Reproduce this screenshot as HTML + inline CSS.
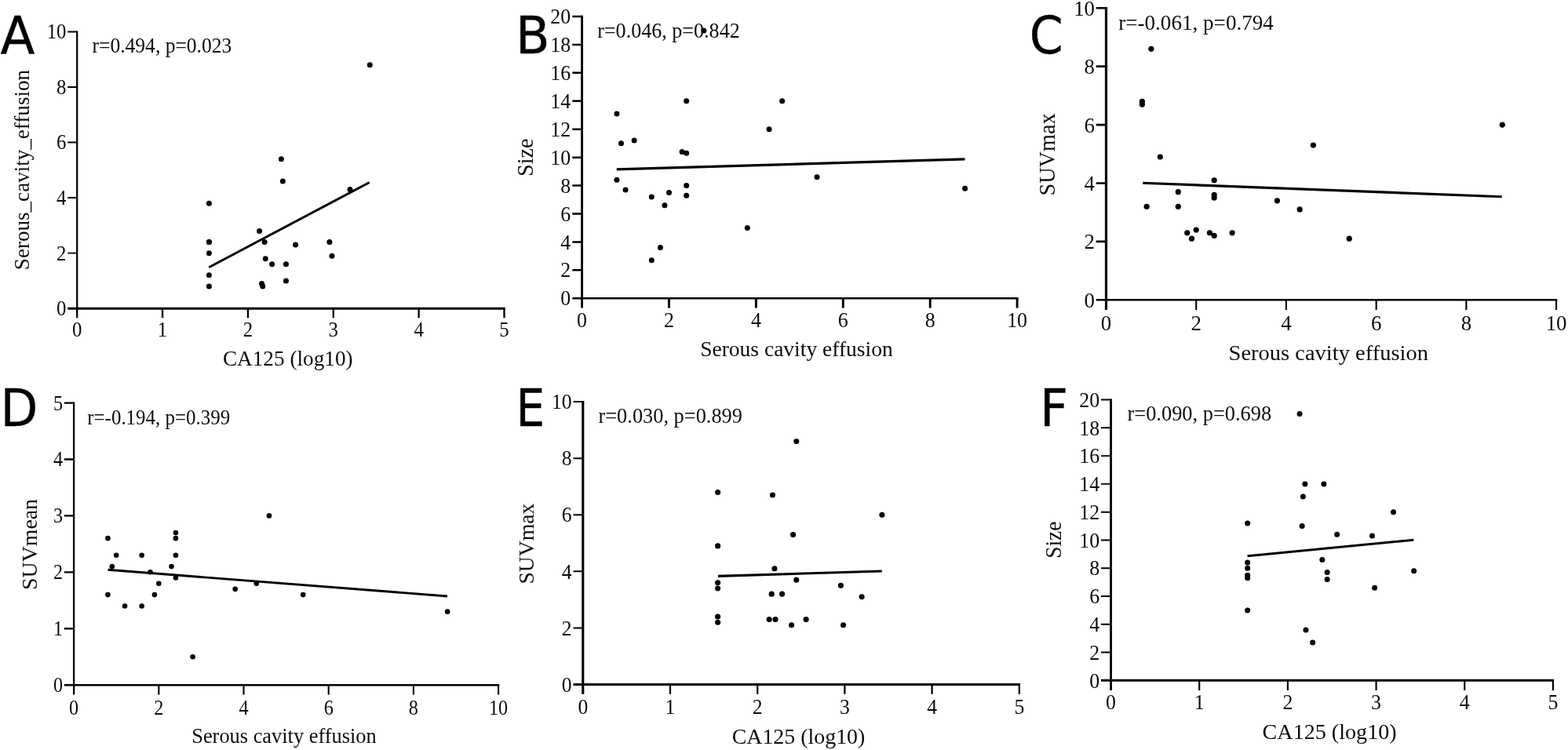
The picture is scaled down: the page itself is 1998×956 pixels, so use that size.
<!DOCTYPE html>
<html lang="en">
<head>
<meta charset="utf-8">
<title>Correlation scatter plots</title>
<style>
html,body{margin:0;padding:0;background:#fff;}
body{width:1998px;height:956px;overflow:hidden;}
svg{display:block;}
.s{font-family:"Liberation Serif", "DejaVu Serif", serif;fill:#0c0c0c;}
.L{font-family:"DejaVu Sans", "Liberation Sans", sans-serif;fill:#000;stroke:#000;stroke-width:0.35px;}
.ax{stroke:#000;fill:none;stroke-linecap:butt;}
.pt{fill:#000;}
</style>
</head>
<body>
<svg width="1998" height="956" viewBox="0 0 1998 956">
<rect width="1998" height="956" fill="#ffffff"/>
<g id="panelA">
<g class="ax">
<path stroke-width="2.25" d="M98.2 39.42V405.2"/>
<path stroke-width="3" d="M86.2 393.2H643.65"/>
<path stroke-width="2.3" d="M207.06 393.2v12M315.92 393.2v12M424.78 393.2v12M533.64 393.2v12M642.5 393.2v12"/>
<path stroke-width="1.95" d="M98.2 322.64h-12M98.2 252.08h-12M98.2 181.52h-12M98.2 110.96h-12M98.2 40.4h-12"/>
</g>
<g class="s" font-size="27">
<text transform="translate(98.2 429.3) scale(0.92 1)" text-anchor="middle">0</text><text transform="translate(207.06 429.3) scale(0.92 1)" text-anchor="middle">1</text><text transform="translate(315.92 429.3) scale(0.92 1)" text-anchor="middle">2</text><text transform="translate(424.78 429.3) scale(0.92 1)" text-anchor="middle">3</text><text transform="translate(533.64 429.3) scale(0.92 1)" text-anchor="middle">4</text><text transform="translate(642.5 429.3) scale(0.92 1)" text-anchor="middle">5</text>
<text transform="translate(84.5 402.1) scale(0.92 1)" text-anchor="end">0</text><text transform="translate(84.5 331.54) scale(0.92 1)" text-anchor="end">2</text><text transform="translate(84.5 260.98) scale(0.92 1)" text-anchor="end">4</text><text transform="translate(84.5 190.42) scale(0.92 1)" text-anchor="end">6</text><text transform="translate(84.5 119.86) scale(0.92 1)" text-anchor="end">8</text><text transform="translate(84.5 49.3) scale(0.92 1)" text-anchor="end">10</text>
</g>
<text class="s" transform="translate(117.49 67) scale(0.9649 1)" font-size="26.5">r=0.494, p=0.023</text>
<text class="s" transform="translate(283.91 465.6) scale(0.9909 1)" font-size="27.5">CA125 (log10)</text>
<text class="s" transform="translate(36.9 344.13) rotate(-90) scale(0.9741 1)" font-size="27.8">Serous_cavity_effusion</text>
<text class="L" transform="translate(0.62 67.75) scale(0.9789 1)" font-size="65.5">A</text>
<line class="ax" x1="266.25" y1="340.75" x2="470.75" y2="232.5" stroke-width="3"/>
<g class="pt">
<circle cx="266.39" cy="259.14" r="3.5"/><circle cx="266.39" cy="308.53" r="3.5"/><circle cx="266.39" cy="308.53" r="3.5"/><circle cx="266.39" cy="322.64" r="3.5"/><circle cx="266.39" cy="350.86" r="3.5"/><circle cx="266.39" cy="364.98" r="3.5"/><circle cx="330.62" cy="294.42" r="3.5"/><circle cx="337.15" cy="308.53" r="3.5"/><circle cx="338.24" cy="329.7" r="3.5"/><circle cx="346.62" cy="336.75" r="3.5"/><circle cx="358.38" cy="202.69" r="3.5"/><circle cx="360.33" cy="230.91" r="3.5"/><circle cx="364.47" cy="336.75" r="3.5"/><circle cx="364.47" cy="357.92" r="3.5"/><circle cx="376.56" cy="312.06" r="3.5"/><circle cx="419.88" cy="308.53" r="3.5"/><circle cx="422.93" cy="326.17" r="3.5"/><circle cx="446.01" cy="241.5" r="3.5"/><circle cx="471.26" cy="82.74" r="3.5"/><circle cx="333.56" cy="361.45" r="3.5"/><circle cx="334.75" cy="364.98" r="3.5"/>
</g>
</g>
<g id="panelB">
<g class="ax">
<path stroke-width="2.85" d="M741.6 19.75V392.56"/>
<path stroke-width="2.45" d="M729.3 380.26H1297.55"/>
<path stroke-width="2.9" d="M852.5 380.26v12.3M963.4 380.26v12.3M1074.3 380.26v12.3M1185.2 380.26v12.3M1296.1 380.26v12.3"/>
<path stroke-width="2.5" d="M741.6 344.33h-12.3M741.6 308.41h-12.3M741.6 272.48h-12.3M741.6 236.56h-12.3M741.6 200.63h-12.3M741.6 164.7h-12.3M741.6 128.78h-12.3M741.6 92.85h-12.3M741.6 56.93h-12.3M741.6 21h-12.3"/>
</g>
<g class="s" font-size="27.3">
<text transform="translate(741.6 417.4) scale(0.95 1)" text-anchor="middle">0</text><text transform="translate(852.5 417.4) scale(0.95 1)" text-anchor="middle">2</text><text transform="translate(963.4 417.4) scale(0.95 1)" text-anchor="middle">4</text><text transform="translate(1074.3 417.4) scale(0.95 1)" text-anchor="middle">6</text><text transform="translate(1185.2 417.4) scale(0.95 1)" text-anchor="middle">8</text><text transform="translate(1296.1 417.4) scale(0.95 1)" text-anchor="middle">10</text>
<text transform="translate(727.2 389.41) scale(0.95 1)" text-anchor="end">0</text><text transform="translate(727.2 353.48) scale(0.95 1)" text-anchor="end">2</text><text transform="translate(727.2 317.56) scale(0.95 1)" text-anchor="end">4</text><text transform="translate(727.2 281.63) scale(0.95 1)" text-anchor="end">6</text><text transform="translate(727.2 245.71) scale(0.95 1)" text-anchor="end">8</text><text transform="translate(727.2 209.78) scale(0.95 1)" text-anchor="end">10</text><text transform="translate(727.2 173.85) scale(0.95 1)" text-anchor="end">12</text><text transform="translate(727.2 137.93) scale(0.95 1)" text-anchor="end">14</text><text transform="translate(727.2 102) scale(0.95 1)" text-anchor="end">16</text><text transform="translate(727.2 66.08) scale(0.95 1)" text-anchor="end">18</text><text transform="translate(727.2 30.15) scale(0.95 1)" text-anchor="end">20</text>
</g>
<text class="s" transform="translate(761.23 48) scale(0.9841 1)" font-size="26.5">r=0.046, p=0.842</text>
<text class="s" transform="translate(892.14 454) scale(1.0199 1)" font-size="27">Serous cavity effusion</text>
<text class="s" transform="translate(678.5 224.9) rotate(-90) scale(0.9877 1)" font-size="28.5">Size</text>
<text class="L" transform="translate(657 67.75) scale(0.9706 1)" font-size="65.5">B</text>
<line class="ax" x1="785.75" y1="215.9" x2="1229.5" y2="202.9" stroke-width="3.1"/>
<g class="pt">
<circle cx="785.96" cy="144.94" r="3.5"/><circle cx="785.96" cy="229.37" r="3.5"/><circle cx="791.5" cy="182.67" r="3.5"/><circle cx="797.05" cy="241.94" r="3.5"/><circle cx="808.14" cy="179.07" r="3.5"/><circle cx="830.32" cy="250.93" r="3.5"/><circle cx="830.32" cy="331.76" r="3.5"/><circle cx="841.41" cy="315.59" r="3.5"/><circle cx="846.96" cy="261.7" r="3.5"/><circle cx="852.5" cy="245.54" r="3.5"/><circle cx="869.13" cy="193.44" r="3.5"/><circle cx="874.68" cy="128.78" r="3.5"/><circle cx="874.68" cy="195.24" r="3.5"/><circle cx="874.68" cy="236.56" r="3.5"/><circle cx="874.68" cy="249.13" r="3.5"/><circle cx="896.86" cy="38.96" r="3.5"/><circle cx="952.31" cy="290.44" r="3.5"/><circle cx="980.04" cy="164.7" r="3.5"/><circle cx="996.67" cy="128.78" r="3.5"/><circle cx="1041.03" cy="225.78" r="3.5"/><circle cx="1229.56" cy="240.15" r="3.5"/>
</g>
</g>
<g id="panelC">
<g class="ax">
<path stroke-width="3.2" d="M1409.5 8.93V395.1"/>
<path stroke-width="2.45" d="M1396.7 382.3H1984.15"/>
<path stroke-width="2.1" d="M1524.22 382.3v12.8M1638.94 382.3v12.8M1753.66 382.3v12.8M1868.38 382.3v12.8M1983.1 382.3v12.8"/>
<path stroke-width="2.65" d="M1409.5 307.89h-12.8M1409.5 233.48h-12.8M1409.5 159.07h-12.8M1409.5 84.66h-12.8M1409.5 10.25h-12.8"/>
</g>
<g class="s" font-size="28">
<text transform="translate(1409.5 420.8) scale(0.96 1)" text-anchor="middle">0</text><text transform="translate(1524.22 420.8) scale(0.96 1)" text-anchor="middle">2</text><text transform="translate(1638.94 420.8) scale(0.96 1)" text-anchor="middle">4</text><text transform="translate(1753.66 420.8) scale(0.96 1)" text-anchor="middle">6</text><text transform="translate(1868.38 420.8) scale(0.96 1)" text-anchor="middle">8</text><text transform="translate(1983.1 420.8) scale(0.96 1)" text-anchor="middle">10</text>
<text transform="translate(1395.05 391.8) scale(0.96 1)" text-anchor="end">0</text><text transform="translate(1395.05 317.39) scale(0.96 1)" text-anchor="end">2</text><text transform="translate(1395.05 242.98) scale(0.96 1)" text-anchor="end">4</text><text transform="translate(1395.05 168.57) scale(0.96 1)" text-anchor="end">6</text><text transform="translate(1395.05 94.16) scale(0.96 1)" text-anchor="end">8</text><text transform="translate(1395.05 19.75) scale(0.96 1)" text-anchor="end">10</text>
</g>
<text class="s" transform="translate(1425.21 38) scale(0.9858 1)" font-size="27.5">r=-0.061, p=0.794</text>
<text class="s" transform="translate(1565.57 458.7) scale(1.0186 1)" font-size="28">Serous cavity effusion</text>
<text class="s" transform="translate(1343.6 249.51) rotate(-90) scale(0.9741 1)" font-size="29">SUVmax</text>
<text class="L" transform="translate(1311.72 67.9) scale(0.9393 1)" font-size="65.5">C</text>
<line class="ax" x1="1456.25" y1="233.25" x2="1913.75" y2="250.75" stroke-width="3.2"/>
<g class="pt">
<circle cx="1455.39" cy="129.31" r="3.6"/><circle cx="1455.39" cy="133.03" r="3.6"/><circle cx="1461.12" cy="263.24" r="3.6"/><circle cx="1466.86" cy="62.34" r="3.6"/><circle cx="1478.33" cy="200" r="3.6"/><circle cx="1501.28" cy="244.64" r="3.6"/><circle cx="1501.28" cy="263.24" r="3.6"/><circle cx="1512.75" cy="296.73" r="3.6"/><circle cx="1518.48" cy="304.17" r="3.6"/><circle cx="1524.22" cy="293.01" r="3.6"/><circle cx="1541.43" cy="296.73" r="3.6"/><circle cx="1547.16" cy="229.76" r="3.6"/><circle cx="1547.16" cy="248.36" r="3.6"/><circle cx="1547.16" cy="252.08" r="3.6"/><circle cx="1547.16" cy="300.45" r="3.6"/><circle cx="1570.11" cy="296.73" r="3.6"/><circle cx="1627.47" cy="255.8" r="3.6"/><circle cx="1656.15" cy="266.96" r="3.6"/><circle cx="1673.36" cy="185.11" r="3.6"/><circle cx="1719.24" cy="304.17" r="3.6"/><circle cx="1914.27" cy="159.07" r="3.6"/>
</g>
</g>
<g id="panelD">
<g class="ax">
<path stroke-width="2.3" d="M94.1 512.38V885.45"/>
<path stroke-width="2.45" d="M81.8 873.15H636.15"/>
<path stroke-width="2.1" d="M202.3 873.15v12.3M310.5 873.15v12.3M418.7 873.15v12.3M526.9 873.15v12.3M635.1 873.15v12.3"/>
<path stroke-width="2.35" d="M94.1 801.23h-12.3M94.1 729.31h-12.3M94.1 657.39h-12.3M94.1 585.47h-12.3M94.1 513.55h-12.3"/>
</g>
<g class="s" font-size="27.5">
<text transform="translate(94.1 910.6) scale(0.88 1)" text-anchor="middle">0</text><text transform="translate(202.3 910.6) scale(0.88 1)" text-anchor="middle">2</text><text transform="translate(310.5 910.6) scale(0.88 1)" text-anchor="middle">4</text><text transform="translate(418.7 910.6) scale(0.88 1)" text-anchor="middle">6</text><text transform="translate(526.9 910.6) scale(0.88 1)" text-anchor="middle">8</text><text transform="translate(635.1 910.6) scale(0.88 1)" text-anchor="middle">10</text>
<text transform="translate(80 882.15) scale(0.88 1)" text-anchor="end">0</text><text transform="translate(80 810.23) scale(0.88 1)" text-anchor="end">1</text><text transform="translate(80 738.31) scale(0.88 1)" text-anchor="end">2</text><text transform="translate(80 666.39) scale(0.88 1)" text-anchor="end">3</text><text transform="translate(80 594.47) scale(0.88 1)" text-anchor="end">4</text><text transform="translate(80 522.55) scale(0.88 1)" text-anchor="end">5</text>
</g>
<text class="s" transform="translate(111.25 540.5) scale(0.9237 1)" font-size="27">r=-0.194, p=0.399</text>
<text class="s" transform="translate(244.22 946.8) scale(0.9602 1)" font-size="27.5">Serous cavity effusion</text>
<text class="s" transform="translate(46.9 751.88) rotate(-90) scale(1.0119 1)" font-size="27.5">SUVmean</text>
<text class="L" transform="translate(0.54 543.1) scale(0.9497 1)" font-size="65.5">D</text>
<line class="ax" x1="137.5" y1="726.25" x2="570" y2="760" stroke-width="2.9"/>
<g class="pt">
<circle cx="137.38" cy="686.16" r="3.3"/><circle cx="137.38" cy="758.08" r="3.3"/><circle cx="142.79" cy="722.12" r="3.3"/><circle cx="148.2" cy="707.73" r="3.3"/><circle cx="159.02" cy="772.46" r="3.3"/><circle cx="180.66" cy="707.73" r="3.3"/><circle cx="180.66" cy="772.46" r="3.3"/><circle cx="191.48" cy="729.31" r="3.3"/><circle cx="196.89" cy="758.08" r="3.3"/><circle cx="202.3" cy="743.69" r="3.3"/><circle cx="218.53" cy="722.12" r="3.3"/><circle cx="223.94" cy="678.97" r="3.3"/><circle cx="223.94" cy="686.16" r="3.3"/><circle cx="223.94" cy="707.73" r="3.3"/><circle cx="223.94" cy="736.5" r="3.3"/><circle cx="245.58" cy="837.19" r="3.3"/><circle cx="299.68" cy="750.89" r="3.3"/><circle cx="326.73" cy="743.69" r="3.3"/><circle cx="342.96" cy="657.39" r="3.3"/><circle cx="386.24" cy="758.08" r="3.3"/><circle cx="570.18" cy="779.65" r="3.3"/>
</g>
</g>
<g id="panelE">
<g class="ax">
<path stroke-width="3.1" d="M742.8 511.12V884.7"/>
<path stroke-width="3" d="M730.6 872.5H1299.92"/>
<path stroke-width="2.25" d="M854 872.5v12.2M965.2 872.5v12.2M1076.4 872.5v12.2M1187.6 872.5v12.2M1298.8 872.5v12.2"/>
<path stroke-width="1.95" d="M742.8 800.42h-12.2M742.8 728.34h-12.2M742.8 656.26h-12.2M742.8 584.18h-12.2M742.8 512.1h-12.2"/>
</g>
<g class="s" font-size="27.3">
<text transform="translate(742.8 910.1) scale(0.94 1)" text-anchor="middle">0</text><text transform="translate(854 910.1) scale(0.94 1)" text-anchor="middle">1</text><text transform="translate(965.2 910.1) scale(0.94 1)" text-anchor="middle">2</text><text transform="translate(1076.4 910.1) scale(0.94 1)" text-anchor="middle">3</text><text transform="translate(1187.6 910.1) scale(0.94 1)" text-anchor="middle">4</text><text transform="translate(1298.8 910.1) scale(0.94 1)" text-anchor="middle">5</text>
<text transform="translate(728.7 881.7) scale(0.94 1)" text-anchor="end">0</text><text transform="translate(728.7 809.62) scale(0.94 1)" text-anchor="end">2</text><text transform="translate(728.7 737.54) scale(0.94 1)" text-anchor="end">4</text><text transform="translate(728.7 665.46) scale(0.94 1)" text-anchor="end">6</text><text transform="translate(728.7 593.38) scale(0.94 1)" text-anchor="end">8</text><text transform="translate(728.7 521.3) scale(0.94 1)" text-anchor="end">10</text>
</g>
<text class="s" transform="translate(762.47 538.75) scale(0.9950 1)" font-size="26.5">r=0.030, p=0.899</text>
<text class="s" transform="translate(932.63 947.7) scale(0.9970 1)" font-size="28">CA125 (log10)</text>
<text class="s" transform="translate(679.6 744.56) rotate(-90) scale(0.9864 1)" font-size="28">SUVmax</text>
<text class="L" transform="translate(657.52 543.1) scale(0.8900 1)" font-size="65.5">E</text>
<line class="ax" x1="915" y1="734.4" x2="1123.75" y2="728" stroke-width="3.1"/>
<g class="pt">
<circle cx="914.6" cy="627.43" r="3.55"/><circle cx="914.6" cy="695.9" r="3.55"/><circle cx="914.6" cy="742.76" r="3.55"/><circle cx="914.6" cy="749.96" r="3.55"/><circle cx="914.6" cy="786" r="3.55"/><circle cx="914.6" cy="793.21" r="3.55"/><circle cx="1014.8" cy="562.56" r="3.55"/><circle cx="984.44" cy="631.03" r="3.55"/><circle cx="1123.88" cy="656.26" r="3.55"/><circle cx="1010.57" cy="681.49" r="3.55"/><circle cx="986.88" cy="724.74" r="3.55"/><circle cx="1014.8" cy="739.15" r="3.55"/><circle cx="1071.4" cy="746.36" r="3.55"/><circle cx="983.21" cy="757.17" r="3.55"/><circle cx="996.56" cy="757.17" r="3.55"/><circle cx="1098.08" cy="760.78" r="3.55"/><circle cx="980.21" cy="789.61" r="3.55"/><circle cx="988" cy="789.61" r="3.55"/><circle cx="1008.57" cy="796.82" r="3.55"/><circle cx="1027.14" cy="789.61" r="3.55"/><circle cx="1074.51" cy="796.82" r="3.55"/>
</g>
</g>
<g id="panelF">
<g class="ax">
<path stroke-width="2.8" d="M1415.55 508.57V879.95"/>
<path stroke-width="3" d="M1402.95 867.35H1979.98"/>
<path stroke-width="2.15" d="M1528.22 867.35v12.6M1640.89 867.35v12.6M1753.56 867.35v12.6M1866.23 867.35v12.6M1978.9 867.35v12.6"/>
<path stroke-width="1.95" d="M1415.55 831.57h-12.6M1415.55 795.79h-12.6M1415.55 760.01h-12.6M1415.55 724.23h-12.6M1415.55 688.45h-12.6M1415.55 652.67h-12.6M1415.55 616.89h-12.6M1415.55 581.11h-12.6M1415.55 545.33h-12.6M1415.55 509.55h-12.6"/>
</g>
<g class="s" font-size="26.7">
<text transform="translate(1415.55 904.3) scale(0.97 1)" text-anchor="middle">0</text><text transform="translate(1528.22 904.3) scale(0.97 1)" text-anchor="middle">1</text><text transform="translate(1640.89 904.3) scale(0.97 1)" text-anchor="middle">2</text><text transform="translate(1753.56 904.3) scale(0.97 1)" text-anchor="middle">3</text><text transform="translate(1866.23 904.3) scale(0.97 1)" text-anchor="middle">4</text><text transform="translate(1978.9 904.3) scale(0.97 1)" text-anchor="middle">5</text>
<text transform="translate(1401.1 876.55) scale(0.97 1)" text-anchor="end">0</text><text transform="translate(1401.1 840.77) scale(0.97 1)" text-anchor="end">2</text><text transform="translate(1401.1 804.99) scale(0.97 1)" text-anchor="end">4</text><text transform="translate(1401.1 769.21) scale(0.97 1)" text-anchor="end">6</text><text transform="translate(1401.1 733.43) scale(0.97 1)" text-anchor="end">8</text><text transform="translate(1401.1 697.65) scale(0.97 1)" text-anchor="end">10</text><text transform="translate(1401.1 661.87) scale(0.97 1)" text-anchor="end">12</text><text transform="translate(1401.1 626.09) scale(0.97 1)" text-anchor="end">14</text><text transform="translate(1401.1 590.31) scale(0.97 1)" text-anchor="end">16</text><text transform="translate(1401.1 554.53) scale(0.97 1)" text-anchor="end">18</text><text transform="translate(1401.1 518.75) scale(0.97 1)" text-anchor="end">20</text>
</g>
<text class="s" transform="translate(1436.47 536) scale(0.9964 1)" font-size="26.5">r=0.090, p=0.698</text>
<text class="s" transform="translate(1608.62 942) scale(1.0045 1)" font-size="28">CA125 (log10)</text>
<text class="s" transform="translate(1351.8 711.64) rotate(-90) scale(0.9408 1)" font-size="29">Size</text>
<text class="L" transform="translate(1324.89 543.1) scale(0.9560 1)" font-size="65.5">F</text>
<line class="ax" x1="1589.6" y1="708.75" x2="1801.25" y2="688.25" stroke-width="2.9"/>
<g class="pt">
<circle cx="1589.63" cy="666.98" r="3.5"/><circle cx="1589.63" cy="717.07" r="3.5"/><circle cx="1589.63" cy="724.23" r="3.5"/><circle cx="1589.63" cy="733.17" r="3.5"/><circle cx="1589.63" cy="736.75" r="3.5"/><circle cx="1589.63" cy="777.9" r="3.5"/><circle cx="1656.1" cy="527.44" r="3.5"/><circle cx="1662.86" cy="616.89" r="3.5"/><circle cx="1686.86" cy="616.89" r="3.5"/><circle cx="1660.38" cy="632.99" r="3.5"/><circle cx="1775.53" cy="652.67" r="3.5"/><circle cx="1659.14" cy="670.56" r="3.5"/><circle cx="1703.65" cy="681.29" r="3.5"/><circle cx="1748.49" cy="683.08" r="3.5"/><circle cx="1684.83" cy="713.5" r="3.5"/><circle cx="1691.14" cy="729.6" r="3.5"/><circle cx="1691.14" cy="738.54" r="3.5"/><circle cx="1801.67" cy="727.81" r="3.5"/><circle cx="1751.64" cy="749.28" r="3.5"/><circle cx="1663.99" cy="802.95" r="3.5"/><circle cx="1672.66" cy="819.05" r="3.5"/>
</g>
</g>
</svg>
</body>
</html>
